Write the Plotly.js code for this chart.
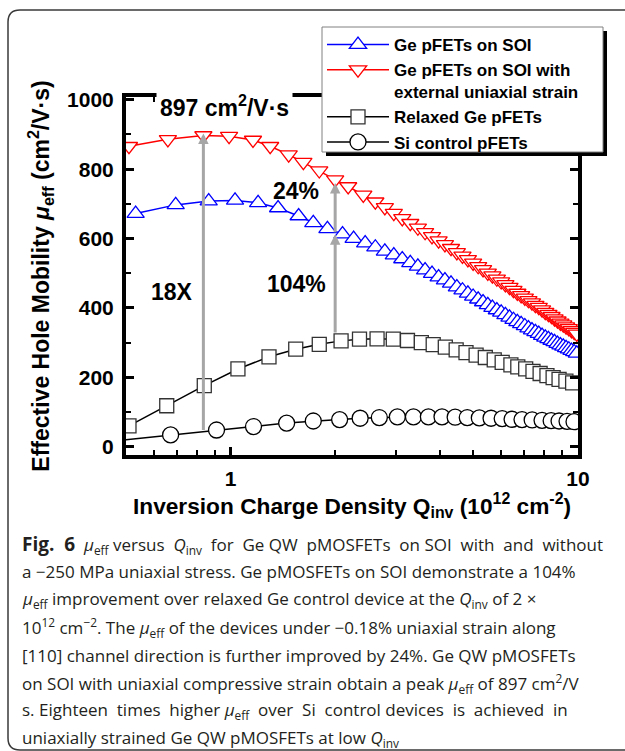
<!DOCTYPE html>
<html>
<head>
<meta charset="utf-8">
<script src="https://cdn.plot.ly/plotly-3.0.1.min.js"></script>
<style>html,body{margin:0;padding:0;background:#fff;}#chart{width:625px;height:751px;}</style>
</head>
<body>
<div id="chart"></div>
<script>
// ---- data ----
const soiX = [0.533,0.695,0.865,1.03,1.20,1.37,1.57,1.73,1.90,2.10,2.26,2.44,2.61,2.78,2.95,3.12,3.29,3.46,3.63,3.80,3.97,4.14,4.31,4.48,4.65,4.82,4.99,5.16,5.33,5.50,5.67,5.84,6.01,6.18,6.35,6.52,6.69,6.86,7.03,7.20,7.37,7.54,7.71,7.88,8.05,8.22,8.39,8.56,8.73,8.90,9.07,9.24,9.41,9.58,9.75,9.92];
const soiY = [672,697,708,710,703,688,665,645,628,613,600,587,575,563,552,541,530,520,509,499,489,480,471,460,451,442,433,425,417,409,401,394,387,380,373,366,360,354,348,342,336,331,326,320,315,311,306,302,297,293,289,285,281,277,273,269];

const strainX = [0.51,0.66,0.835,0.99,1.16,1.30,1.47,1.62,1.80,2.0,2.18,2.41,2.61,2.78,2.95,3.12,3.29,3.46,3.63,3.80,3.97,4.14,4.31,4.48,4.65,4.82,4.99,5.16,5.33,5.50,5.67,5.84,6.01,6.18,6.35,6.52,6.69,6.86,7.03,7.20,7.37,7.54,7.71,7.88,8.05,8.22,8.39,8.56,8.73,8.90,9.07,9.24,9.41,9.58,9.75,9.92];
const strainY = [866,886,897,895,884,866,842,820,796,770,750,726,706,690,673,658,644,631,618,606,594,583,572,560,550,540,530,520,511,501,493,484,476,468,460,451,443,436,429,422,415,408,402,395,388,382,376,369,363,357,352,346,341,335,330,325];

const relaxedX = [0.51,0.655,0.84,1.05,1.29,1.54,1.80,2.08,2.35,2.64,2.94,3.23,3.54,3.83,4.15,4.46,4.76,5.09,5.41,5.74,6.05,6.41,6.71,7.07,7.42,7.78,8.14,8.48,8.82,9.23,9.65];
const relaxedY = [60,118,176,224,259,281,295,305,310,311,310,306,300,294,287,279,271,264,257,250,243,236,230,224,217,211,205,199,194,189,184];

const siX = [0.45,0.672,0.911,1.164,1.45,1.73,2.06,2.36,2.68,3.02,3.36,3.71,4.06,4.43,4.80,5.20,5.62,6.05,6.46,6.90,7.38,7.88,8.37,8.82,9.30,9.74];
const siY = [15,34,48,58,68,74,78,82,84,86,86,86,86,85,84,83,82,81,79,78,77,76,75,74,73,72];

const seriesNames = ['Ge pFETs on SOI','Ge pFETs on SOI with<br>external uniaxial strain','Relaxed Ge pFETs','Si control pFETs'];

const xMajorTicks = [1, 10];
const xMajorLabels = ['1', '10'];
const xMinorTicks = [0.5,0.6,0.7,0.8,0.9,2,3,4,5,6,7,8,9];

// annotated values
const peakX = 0.835, peakY = 903, siAtPeak = 44;
const refX = 2, relaxedAtRef = 325, soiAtRef = 612, strainAtRef = 760;

// widen the word gaps of a caption line (the reference caption is set a little looser on some lines)
function widen(text, n) {
  const parts = text.split(' ');
  const gaps = parts.length - 1;
  let out = parts[0];
  for (let i = 0; i < gaps; i++) {
    const extra = Math.floor((i + 1) * n / gaps) > Math.floor(i * n / gaps);
    out += ' ' + (extra ? '\u00A0' : '') + parts[i + 1];
  }
  return out;
}

const captionLines = [
  widen('<span style="font-size:19px"><b>Fig. 6</b></span> <i>μ</i><sub>eff</sub> versus <i>Q</i><sub>inv</sub> for Ge QW pMOSFETs on SOI with and without', 10),
  'a −250 MPa uniaxial stress. Ge pMOSFETs on SOI demonstrate a 104%',
  '<i>μ</i><sub>eff</sub> improvement over relaxed Ge control device at the <i>Q</i><sub>inv</sub> of 2 ×',
  '10<sup>12</sup> cm<sup>−2</sup>. The <i>μ</i><sub>eff</sub> of the devices under −0.18% uniaxial strain along',
  '[110] channel direction is further improved by 24%. Ge QW pMOSFETs',
  'on SOI with uniaxial compressive strain obtain a peak <i>μ</i><sub>eff</sub> of 897 cm<sup>2</sup>/V',
  widen('s. Eighteen times higher <i>μ</i><sub>eff</sub> over Si control devices is achieved in', 8),
  'uniaxially strained Ge QW pMOSFETs at low <i>Q</i><sub>inv</sub>'
];

// ---- layout geometry ----
const W = 625, H = 751, ML = 126, MR = 47, MT = 97, MB = 296;
const PW = W - ML - MR, PH = H - MT - MB;
const PX = p => (p - ML) / PW;
const PY = p => 1 - (p - MT) / PH;

const AF = 'Arial, "Liberation Sans", sans-serif';
const CF = '"Open Sans", "Noto Sans", sans-serif';

const mk = (sym, size, lc) => ({symbol: sym, size: size, color: '#ffffff', line: {color: lc, width: 1.3}});

const traces = [
  {x: soiX, y: soiY, name: seriesNames[0], type: 'scatter', mode: 'lines+markers',
   line: {color: '#0000ff', width: 1.5}, marker: mk('triangle-up',15,'#0000ff')},
  {x: strainX, y: strainY, name: seriesNames[1], type: 'scatter', mode: 'lines+markers',
   line: {color: '#ff0000', width: 1.5}, marker: mk('triangle-down',15,'#ff0000')},
  {x: relaxedX, y: relaxedY, name: seriesNames[2], type: 'scatter', mode: 'lines+markers',
   line: {color: '#000000', width: 1.5}, marker: mk('square',14,'#333333')},
  {x: siX, y: siY, name: seriesNames[3], type: 'scatter', mode: 'lines+markers',
   line: {color: '#000000', width: 1.5}, marker: mk('circle',16,'#000000')}
];

const annotations = [];
const gray = '#a6a6a6';
function arrow(x, yHead, yTail) {
  annotations.push({xref: 'x', yref: 'y', axref: 'x', ayref: 'y', x: Math.log10(x), y: yHead,
    ax: Math.log10(x), ay: yTail, text: '', showarrow: true, arrowhead: 2, arrowsize: 0.7,
    arrowwidth: 3, arrowcolor: gray, standoff: 0, startstandoff: 0});
}
arrow(peakX, peakY, siAtPeak);
arrow(refX, soiAtRef, relaxedAtRef);
arrow(refX, strainAtRef, soiAtRef + 2);

function label(txt, px, py, size, bg) {
  annotations.push({xref: 'paper', yref: 'paper', x: PX(px), y: PY(py), text: txt, showarrow: false,
    xanchor: 'center', yanchor: 'middle', font: {family: AF, size: size, color: '#000', weight: 'bold'},
    bgcolor: bg || 'rgba(0,0,0,0)', borderpad: 3});
}
label('897 cm<sup>2</sup>/V·s', 224, 106, 23, '#ffffff');
label('24%', 296, 191, 23);
label('18X', 172, 292, 23);
label('104%', 296, 284, 23);

const capTop = 544, capStep = 27.8;
captionLines.forEach((t, i) => {
  annotations.push({xref: 'paper', yref: 'paper', x: PX(20), y: PY(capTop + i * capStep), text: t,
    showarrow: false, xanchor: 'left', yanchor: 'middle', align: 'left',
    font: {family: CF, size: 17, color: '#231f20'}});
});

const shapes = [
  // outer rounded frame
  {type: 'path', xref: 'paper', yref: 'paper', layer: 'below',
   path: `M ${PX(8)} ${PY(22)} Q ${PX(8)} ${PY(10)} ${PX(20)} ${PY(10)} L ${PX(640)} ${PY(10)} L ${PX(640)} ${PY(750)} L ${PX(20)} ${PY(750)} Q ${PX(8)} ${PY(750)} ${PX(8)} ${PY(738)} Z`,
   line: {color: '#3a3a3a', width: 1.5}},
  // legend drop shadow
  {type: 'rect', xref: 'paper', yref: 'paper', layer: 'above',
   x0: PX(326), x1: PX(607), y0: PY(31), y1: PY(156), fillcolor: '#000', line: {width: 0}},
  // legend box
  {type: 'rect', xref: 'paper', yref: 'paper', layer: 'above',
   x0: PX(322), x1: PX(603), y0: PY(27), y1: PY(152), fillcolor: '#fff', line: {color: '#808080', width: 1}}
];

const axisCommon = {
  showline: true, linecolor: '#000', linewidth: 4, mirror: 'ticks', ticks: 'inside',
  tickcolor: '#000', tickwidth: 3, ticklen: 8, showgrid: false, zeroline: false,
  tickfont: {family: AF, size: 21, color: '#000', weight: 'bold'}
};

const layout = {
  width: W, height: H, margin: {l: ML, r: MR, t: MT, b: MB, pad: 0},
  paper_bgcolor: '#fff', plot_bgcolor: '#fff', showlegend: true,
  xaxis: Object.assign({}, axisCommon, {
    type: 'log', range: [Math.log10(0.5), 1], tickmode: 'array', tickvals: xMajorTicks, ticktext: xMajorLabels,
    ticklabelstandoff: 2,
    minor: {tickmode: 'array', tickvals: xMinorTicks, ticks: 'inside', ticklen: 5, tickwidth: 2, tickcolor: '#000', showgrid: false},
    title: {text: 'Inversion Charge Density Q<sub>inv</sub> (10<sup>12</sup> cm<sup>-2</sup>)', standoff: 2,
      font: {family: AF, size: 22.7, color: '#000', weight: 'bold'}}
  }),
  yaxis: Object.assign({}, axisCommon, {
    range: [-24, 1008], tick0: 0, dtick: 200, ticklabelstandoff: 4,
    minor: {dtick: 100, ticks: 'inside', ticklen: 5, tickwidth: 2, tickcolor: '#000', showgrid: false},
    title: {text: 'Effective Hole Mobility <i>μ</i><sub>eff</sub> (cm<sup>2</sup>/V·s)', standoff: 12,
      font: {family: AF, size: 23, color: '#000', weight: 'bold'}}
  }),
  legend: {x: PX(322), y: PY(27), xanchor: 'left', yanchor: 'top', bgcolor: 'rgba(0,0,0,0)',
    borderwidth: 0, valign: 'top', tracegroupgap: 0, itemwidth: 62,
    font: {family: AF, size: 17, color: '#000', weight: 'bold'}},
  annotations: annotations,
  shapes: shapes
};

Plotly.newPlot('chart', traces, layout, {staticPlot: true, displayModeBar: false});
</script>
</body>
</html>
